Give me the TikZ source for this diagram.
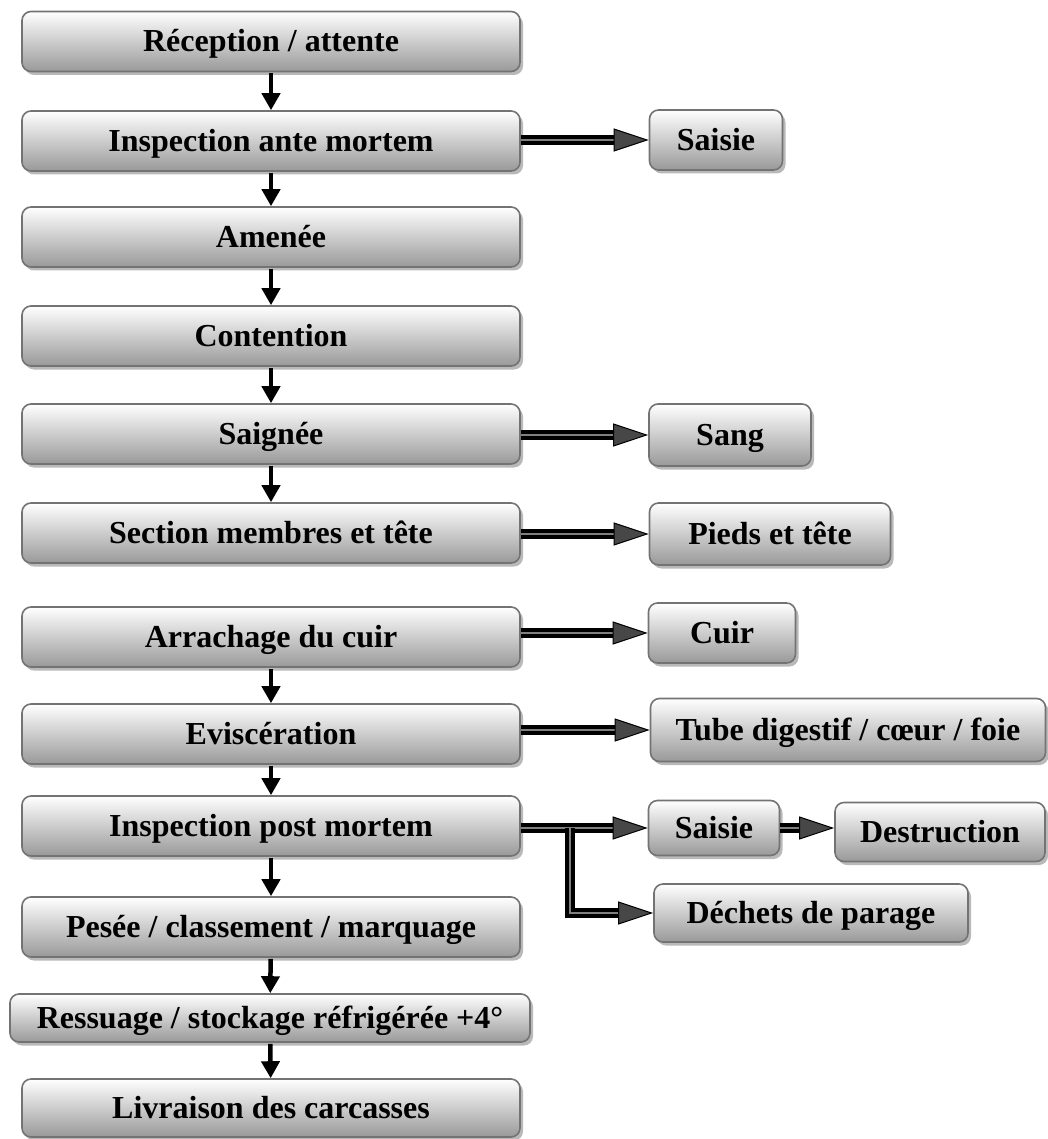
\documentclass[tikz,border=0pt]{standalone}
\usepackage{fontspec}
\setmainfont{Liberation Serif}
\usetikzlibrary{arrows.meta,shadows}
\begin{document}
\begin{tikzpicture}[x=1pt,y=-1pt,
  box/.style={draw=black!55, line width=1.6pt, rounded corners=9pt,
    top color=white, bottom color=black!40,
    drop shadow={shadow xshift=3pt, shadow yshift=-3.5pt, fill=black!50, opacity=0.55},
    font=\fontsize{32}{34}\selectfont\bfseries, inner sep=0pt, align=center,
    text height=21pt, text depth=0pt},
  mainbox/.style={box, minimum width=498pt, minimum height=60pt},
  down/.style={line width=4.5pt, -{Triangle[length=17pt,width=18pt]}, shorten <=1pt},
  shaft/.style={draw=black, line width=3.9pt, double=black!50, double distance=2.4pt, line join=miter},
  head/.style={draw=black, line width=1pt, -{Triangle[length=35pt,width=23pt,fill=black!72,line width=1pt]}}
]
\useasboundingbox (0,0) rectangle (1047,1139);

% main chain of operations
\node[mainbox] (n1)  at (271,41.5) {Réception / attente};
\node[mainbox] (n2)  at (271,141)  {Inspection ante mortem};
\node[mainbox] (n3)  at (271,237)  {Amenée};
\node[mainbox] (n4)  at (271,336)  {Contention};
\node[mainbox] (n5)  at (271,434)  {Saignée};
\node[mainbox] (n6)  at (271,533)  {Section membres et tête};
\node[mainbox] (n7)  at (271,637)  {Arrachage du cuir};
\node[mainbox] (n8)  at (271,734)  {Eviscération};
\node[mainbox] (n9)  at (271,826)  {Inspection post mortem};
\node[mainbox] (n10) at (271,927)  {Pesée / classement / marquage};
\node[box, minimum width=520pt, minimum height=48pt] (n11) at (270,1018) {Ressuage / stockage réfrigérée +4°};
\node[box, minimum width=498pt, minimum height=58pt] (n12) at (271,1108) {Livraison des carcasses};

% by-products
\node[box, minimum width=133pt, minimum height=60pt] (s1) at (716,140) {Saisie};
\node[box, minimum width=162pt, minimum height=62pt] (sg) at (730,435) {Sang};
\node[box, minimum width=241pt, minimum height=62pt] (pt) at (770,534) {Pieds et tête};
\node[box, minimum width=147pt, minimum height=60pt] (cu) at (722,633) {Cuir};
\node[box, minimum width=395pt, minimum height=63pt] (tb) at (848,730) {Tube digestif / cœur / foie};
\node[box, minimum width=131pt, minimum height=55pt] (s2) at (714,828) {Saisie};
\node[box, minimum width=210pt, minimum height=59pt] (de) at (940,832) {Destruction};
\node[box, minimum width=314pt, minimum height=58pt] (dp) at (811,913) {Déchets de parage};

% vertical flow
\foreach \a/\b in {n1/n2,n2/n3,n3/n4,n4/n5,n5/n6,n7/n8,n8/n9,n9/n10,n10/n11,n11/n12}
  \draw[down] (\a) -- (\b);

% side outputs: double shaft plus filled head
\foreach \a/\b in {n2/s1,n5/sg,n6/pt,n7/cu,n8/tb,n9/s2} {
  \draw[shaft] (\a.east |- \b.west) -- ([xshift=-33pt]\b.west);
  \draw[head] ([xshift=-35pt]\b.west) -- (\b.west);
}
\draw[shaft] (s2.east) -- ([xshift=-33pt]de.west |- s2.east);
\draw[head] ([xshift=-35pt]de.west |- s2.east) -- (de.west |- s2.east);

% branch towards trimming waste
\coordinate (br) at (570,828);
\draw[shaft] (br) |- ([xshift=-33pt]dp.west);
\draw[head] ([xshift=-35pt]dp.west) -- (dp.west);
\end{tikzpicture}
\end{document}
